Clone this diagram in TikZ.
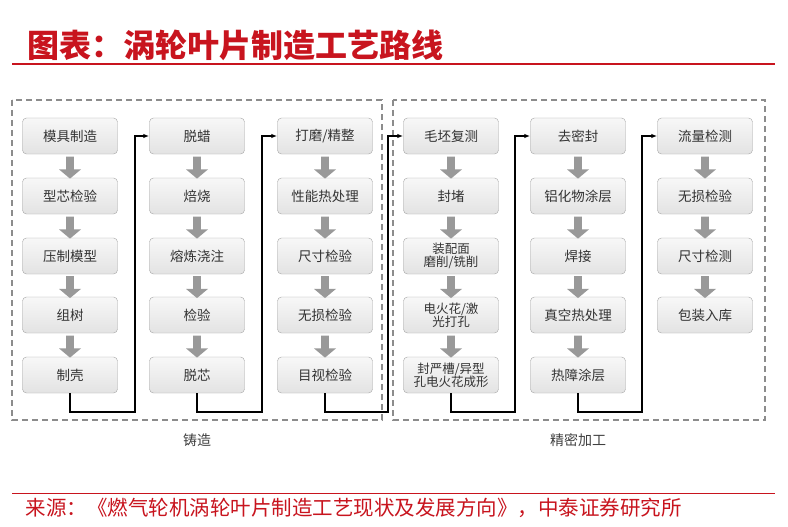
\documentclass[tikz,border=0pt]{standalone}
\usepackage{fontspec}
\setmainfont{Noto Sans CJK SC}
\usetikzlibrary{arrows.meta,shapes.arrows}
\definecolor{rd}{RGB}{200,20,30}
\begin{document}
\begin{tikzpicture}[x=1pt,y=-1pt,
 box/.style={draw=gray!70,rounded corners=4pt,top color=gray!6,bottom color=gray!22,minimum width=95pt,minimum height=36pt,align=center,font=\fontsize{13.5}{13.5}\selectfont,text=black!80,inner sep=1pt},
 dn/.style={single arrow,draw=none,fill=gray!80,shape border rotate=270,minimum width=22pt,single arrow head extend=5pt,single arrow tip angle=100,minimum height=22pt,inner sep=2.5pt},
 con/.style={line width=1.6pt,-{Latex[length=6pt]}},
 grp/.style={draw=gray!90,line width=1.1pt,dash pattern=on 6pt off 4pt}]
\useasboundingbox (0,0) rectangle (788,527);
\fill[white] (0,0) rectangle (788,527);
\node[anchor=west,text=rd,font=\fontsize{32}{32}\selectfont\bfseries\itshape] (title) at (24,45) {图表：涡轮叶片制造工艺路线};
\draw[rd,line width=1.2pt] (12,64) -- (775,64);
\draw[rd,line width=1pt] (12,493) -- (775,493);
\node[anchor=west,text=rd,font=\fontsize{20.5}{20.5}\selectfont] (src) at (22,508) {来源：《燃气轮机涡轮叶片制造工艺现状及发展方向》，中泰证券研究所};
\draw[grp] (12,100) rectangle (382,420);
\draw[grp] (393,100) rectangle (765,420);
\node (l1) at (197,440) {\fontsize{14}{14}\selectfont\color{black!75}铸造};
\node (l2) at (578,440) {\fontsize{14}{14}\selectfont\color{black!75}精密加工};
\node[box] (a1) at (70,136) {模具制造};
\node[box] (a2) at (70,196) {型芯检验};
\node[box] (a3) at (70,256) {压制模型};
\node[box] (a4) at (70,315) {组树};
\node[box] (a5) at (70,375) {制壳};
\node[box] (b1) at (197,136) {脱蜡};
\node[box] (b2) at (197,196) {焙烧};
\node[box] (b3) at (197,256) {熔炼浇注};
\node[box] (b4) at (197,315) {检验};
\node[box] (b5) at (197,375) {脱芯};
\node[box] (c1) at (325,136) {打磨/精整};
\node[box] (c2) at (325,196) {性能热处理};
\node[box] (c3) at (325,256) {尺寸检验};
\node[box] (c4) at (325,315) {无损检验};
\node[box] (c5) at (325,375) {目视检验};
\node[box] (d1) at (451,136) {毛坯复测};
\node[box] (d2) at (451,196) {封堵};
\node[box,font=\fontsize{12.5}{13}\selectfont] (d3) at (451,256) {装配面\\磨削/铣削};
\node[box,font=\fontsize{12.5}{13}\selectfont] (d4) at (451,315) {电火花/激\\光打孔};
\node[box,font=\fontsize{12.5}{13}\selectfont] (d5) at (451,375) {封严槽/异型\\孔电火花成形};
\node[box] (e1) at (578,136) {去密封};
\node[box] (e2) at (578,196) {铝化物涂层};
\node[box] (e3) at (578,256) {焊接};
\node[box] (e4) at (578,315) {真空热处理};
\node[box] (e5) at (578,375) {热障涂层};
\node[box] (f1) at (705,136) {流量检测};
\node[box] (f2) at (705,196) {无损检验};
\node[box] (f3) at (705,256) {尺寸检测};
\node[box] (f4) at (705,315) {包装入库};
\foreach \p in {a,b,c,d,e}{
 \foreach \i/\j in {1/2,2/3,3/4,4/5}{
  \path (\p\i.south) -- (\p\j.north) node[dn,midway] {};}}
\foreach \i/\j in {1/2,2/3,3/4}{\path (f\i.south) -- (f\j.north) node[dn,midway] {};}
\foreach \s/\t/\x in {a5/b1/135,b5/c1/262,c5/d1/388,d5/e1/515,e5/f1/642}{
 \draw[con] (\s.south) |- (\x,412) |- (\t.west);}
\end{tikzpicture}
\end{document}
